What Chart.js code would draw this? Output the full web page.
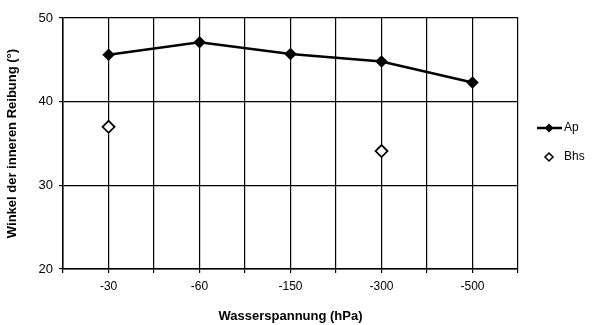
<!DOCTYPE html>
<html>
<head>
<meta charset="utf-8">
<script src="https://cdn.jsdelivr.net/npm/chart.js@4/dist/chart.umd.min.js"></script>
<style>
  html, body { margin: 0; padding: 0; background: #fff; }
  #wrap { width: 609px; height: 325px; }
</style>
</head>
<body>
<div id="wrap"><canvas id="myChart" width="609" height="325"></canvas></div>
<script>
// data
const categories = ['-30', '-60', '-150', '-300', '-500'];
const apValues = [45.6, 47.1, 45.7, 44.8, 42.3];
const bhsValues = [37.0, null, null, 34.1, null];
const yTicks = [20, 30, 40, 50];

const fontFam = '"Liberation Sans", Arial, sans-serif';

function toPoints(vals) {
    const pts = [];
    vals.forEach((v, i) => { if (v !== null) pts.push({ x: i, y: v }); });
    return pts;
}

// little legend on the right, drawn by hand
const sideLegend = {
    id: 'sideLegend',
    afterDraw(chart) {
        const c = chart.ctx;
        const x0 = chart.chartArea.right + 19;
        const yAp = 128, yBhs = 157;
        c.save();
        c.strokeStyle = '#000';
        c.lineWidth = 2.5;
        c.beginPath();
        c.moveTo(x0, yAp);
        c.lineTo(x0 + 25, yAp);
        c.stroke();
        diamond(c, x0 + 12, yAp, 4.5, true);
        diamond(c, x0 + 12, yBhs, 4, false);
        c.fillStyle = '#000';
        c.font = '12px ' + fontFam;
        c.textBaseline = 'middle';
        c.fillText('Ap', x0 + 27, yAp);
        c.fillText('Bhs', x0 + 27, yBhs);
        c.restore();
    }
};
function diamond(c, x, y, r, filled) {
    c.beginPath();
    c.moveTo(x, y - r); c.lineTo(x + r, y); c.lineTo(x, y + r); c.lineTo(x - r, y);
    c.closePath();
    if (filled) { c.fillStyle = '#000'; c.fill(); }
    else { c.fillStyle = '#fff'; c.fill(); c.lineWidth = 1.5; c.stroke(); }
}

const ctx = document.getElementById('myChart').getContext('2d');
const myChart = new Chart(ctx, {
    type: 'line',
    data: {
        datasets: [{
            label: 'Ap',
            data: toPoints(apValues),
            borderColor: '#000',
            borderWidth: 2.5,
            backgroundColor: '#000',
            pointStyle: 'rectRot',
            pointRadius: 4.5,
            pointBackgroundColor: '#000',
            pointBorderColor: '#000',
            tension: 0
        }, {
            label: 'Bhs',
            data: toPoints(bhsValues),
            showLine: false,
            pointStyle: 'rectRot',
            pointRadius: 6,
            pointBorderWidth: 1.8,
            pointBackgroundColor: '#fff',
            pointBorderColor: '#000'
        }]
    },
    plugins: [sideLegend],
    options: {
        responsive: false,
        animation: false,
        layout: { padding: { left: 5, right: 91, top: 18, bottom: 1 } },
        plugins: {
            legend: { display: false },
            tooltip: { enabled: false }
        },
        scales: {
            x: {
                type: 'linear',
                min: -0.5,
                max: 4.5,
                border: { color: '#000', width: 1.5 },
                grid: { color: '#000', lineWidth: 1.2, tickLength: 4, drawTicks: true },
                ticks: {
                    stepSize: 0.5,
                    autoSkip: false,
                    maxRotation: 0,
                    color: '#000',
                    padding: 6,
                    font: { family: fontFam, size: 12 },
                    callback: (v) => Number.isInteger(v) ? categories[v] : ''
                },
                title: {
                    display: true,
                    text: 'Wasserspannung (hPa)',
                    color: '#000',
                    font: { family: fontFam, size: 13, weight: 'bold' },
                    padding: { top: 9, bottom: 0 }
                }
            },
            y: {
                min: 20,
                max: 50,
                afterBuildTicks: (axis) => { axis.ticks = yTicks.map(v => ({ value: v })); },
                border: { color: '#000', width: 1.5 },
                grid: { color: '#000', lineWidth: 1.2, tickLength: 4 },
                ticks: {
                    color: '#000',
                    padding: 6,
                    font: { family: fontFam, size: 13 }
                },
                title: {
                    display: true,
                    text: 'Winkel der inneren Reibung (°)',
                    color: '#000',
                    font: { family: fontFam, size: 13, weight: 'bold' },
                    padding: { top: 0, bottom: 12 }
                }
            }
        }
    }
});
</script>
</body>
</html>
